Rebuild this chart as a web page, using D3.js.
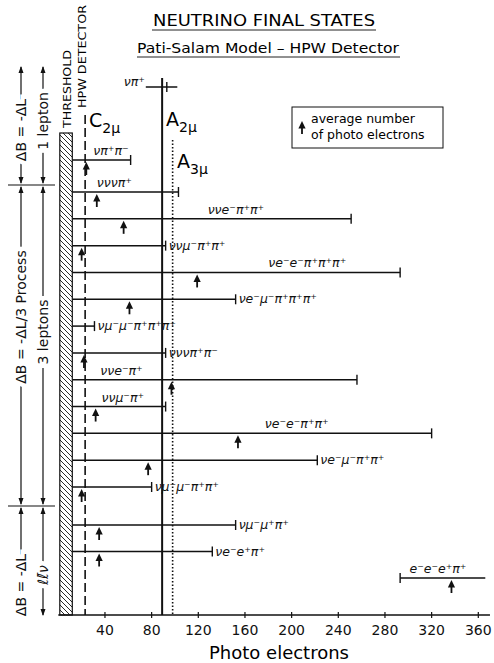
<!DOCTYPE html>
<html><head><meta charset="utf-8">
<script src="https://cdn.jsdelivr.net/npm/d3@7"></script>
<style>body{margin:0;background:#fff}</style>
</head><body>
<script>
// ---------- DATA ----------
const finalStates = ["νπ⁺","νπ⁺π⁻","νννπ⁺","ννe⁻π⁺π⁺","ννμ⁻π⁺π⁺","νe⁻e⁻π⁺π⁺π⁺","νe⁻μ⁻π⁺π⁺π⁺","νμ⁻μ⁻π⁺π⁺π⁺","νννπ⁺π⁻","ννe⁻π⁺","ννμ⁻π⁺","νe⁻e⁻π⁺π⁺","νe⁻μ⁻π⁺π⁺","νμ⁻μ⁻π⁺π⁺","νμ⁻μ⁺π⁺","νe⁻e⁺π⁺","e⁻e⁻e⁺π⁺"];
const processGroup = [0,0,1,1,1,1,1,1,1,1,1,1,1,1,2,2,2];
const rangeStart = [75,12,12,12,12,12,12,12,12,12,12,12,12,12,12,12,293];
const rangeEnd   = [102,62,103,251,92,293,152,31,92,256,92,320,222,80,152,132,366];
const rangeTick  = [93,62,103,251,92,293,152,31,92,256,92,320,222,80,152,132,293];
const avgPhotoElectrons = [null,24,33,56,20,119,61,null,22,97,32,154,77,20,35,35,337];
const refNames = ["C","A","A"];
const refSubs = ["2μ","2μ","3μ"];
const refValues = [23,89,98];
const thresholdValue = 12;
const xTicks = [40,80,120,160,200,240,280,320,360];
const groupLabels = ["ΔB = -ΔL","ΔB = -ΔL/3  Process","ΔB = -ΔL"];
const groupSubLabels = ["1 lepton","3 leptons","ℓℓ̄ν"];

// ---------- LAYOUT ----------
const W = 494, H = 663;
const axisY = 615;
const x = d3.scaleLinear().domain([0,360]).range([58.3,478.3]);
const groupRanges = [[87,160],[192,487],[525,578]];
const groupBounds = [[65,185],[185,506],[506,617]];
const groupTextCenter = [[130,121],[317,332],[585,575]];
const yScales = groupRanges.map((r,g) =>
  d3.scalePoint().domain(finalStates.filter((d,i)=>processGroup[i]===g)).range(r));
const yOf = i => yScales[processGroup[i]](finalStates[i]);
const labelPlace = {
 "νπ⁺":{side:"left"}, "νπ⁺π⁻":{side:"above",at:30}, "νννπ⁺":{side:"above",at:33},
 "ννe⁻π⁺π⁺":{side:"above",at:128}, "νe⁻e⁻π⁺π⁺π⁺":{side:"above",at:180},
 "ννe⁻π⁺":{side:"above",at:36}, "ννμ⁻π⁺":{side:"above",at:37},
 "νe⁻e⁻π⁺π⁺":{side:"above",at:177}, "e⁻e⁻e⁺π⁺":{side:"above",at:301}
};
const refTop = [115,78,140];
const refLabelPos = [[89,127],[166,126],[177,168]];
const refDash = ["9,4",null,"1.5,2"];

const svg = d3.select("body").append("svg").attr("width",W).attr("height",H)
  .style("font-family","'DejaVu Sans', sans-serif");
svg.append("rect").attr("width",W).attr("height",H).attr("fill","#fff");

const defs = svg.append("defs");
const pat = defs.append("pattern").attr("id","hatch").attr("patternUnits","userSpaceOnUse")
  .attr("width",5).attr("height",5);
pat.append("path").attr("d","M-1,-1 L6,6 M-1,4 L1,6 M4,-1 L6,1").attr("stroke","#111").attr("stroke-width",0.9);

// Title
svg.append("text").attr("x",264).attr("y",26).attr("text-anchor","middle")
  .attr("font-size",15).attr("textLength",222).attr("lengthAdjust","spacingAndGlyphs")
  .text("NEUTRINO FINAL STATES");
svg.append("line").attr("x1",152).attr("x2",376).attr("y1",30).attr("y2",30).attr("stroke","#222").attr("stroke-width",1);
svg.append("text").attr("x",268).attr("y",53).attr("text-anchor","middle")
  .attr("font-size",14.5).attr("textLength",262).attr("lengthAdjust","spacingAndGlyphs")
  .text("Pati-Salam Model – HPW Detector");
svg.append("line").attr("x1",137).attr("x2",400).attr("y1",57).attr("y2",57).attr("stroke","#222").attr("stroke-width",1);

// Threshold hatch
svg.append("rect").attr("x",x(0)+1.5).attr("y",133).attr("width",x(thresholdValue)-x(0)-1.5)
  .attr("height",axisY-133).attr("fill","url(#hatch)").attr("stroke","#111").attr("stroke-width",1.2);
svg.append("text").attr("transform",`translate(${71},${128}) rotate(-90)`)
  .attr("font-size",11).attr("textLength",78).attr("lengthAdjust","spacingAndGlyphs").text("THRESHOLD");
svg.append("text").attr("transform",`translate(${86},${108}) rotate(-90)`)
  .attr("font-size",11).attr("textLength",103).attr("lengthAdjust","spacingAndGlyphs").text("HPW DETECTOR");

// Reference lines
refValues.forEach((v,i)=>{
  svg.append("line").attr("x1",x(v)).attr("x2",x(v)).attr("y1",refTop[i]).attr("y2",axisY)
    .attr("stroke","#111").attr("stroke-width",i===1?2:1.6).attr("stroke-dasharray",refDash[i]);
  const t = svg.append("text").attr("x",refLabelPos[i][0]).attr("y",refLabelPos[i][1]).attr("font-size",19);
  t.append("tspan").text(refNames[i]);
  t.append("tspan").attr("font-size",14).attr("dy",6).text(refSubs[i]);
});

// Axis
const axis = svg.append("g").attr("transform",`translate(0,${axisY})`);
axis.append("line").attr("x1",x(0)).attr("x2",x(370)).attr("stroke","#111").attr("stroke-width",1.6);
axis.selectAll(".tk").data(xTicks).join("line").attr("x1",d=>x(d)).attr("x2",d=>x(d))
  .attr("y1",-3).attr("y2",3).attr("stroke","#111").attr("stroke-width",1.2);
axis.selectAll(".tl").data(xTicks).join("text").attr("x",d=>x(d)).attr("y",20)
  .attr("text-anchor","middle").attr("font-size",14).attr("fill","#111").text(d=>d);
svg.append("text").attr("x",279).attr("y",659).attr("text-anchor","middle").attr("font-size",18).text("Photo electrons");

// Arrow helper
function arrow(g, cx, tipY){
  g.append("path").attr("d",`M${cx},${tipY} L${cx-3.6},${tipY+7.5} L${cx+3.6},${tipY+7.5} Z`).attr("fill","#111");
  g.append("line").attr("x1",cx).attr("x2",cx).attr("y1",tipY+6).attr("y2",tipY+13).attr("stroke","#111").attr("stroke-width",1.8);
}

// Bars
const bars = svg.append("g");
finalStates.forEach((name,i)=>{
  const y = yOf(i);
  bars.append("line").attr("x1",x(rangeStart[i])).attr("x2",x(rangeEnd[i])).attr("y1",y).attr("y2",y)
    .attr("stroke","#111").attr("stroke-width",1.5);
  bars.append("line").attr("x1",x(rangeTick[i])).attr("x2",x(rangeTick[i])).attr("y1",y-5).attr("y2",y+5)
    .attr("stroke","#111").attr("stroke-width",1.4);
  if (avgPhotoElectrons[i]!=null) arrow(bars, x(avgPhotoElectrons[i]), y+2);
  const p = labelPlace[name] || {side:"right"};
  const t = bars.append("text").attr("font-size",12.5).attr("font-style","italic").attr("fill","#111").text(name);
  if (p.side==="above") t.attr("x",x(p.at)).attr("y",y-5);
  else if (p.side==="left") t.attr("x",x(rangeStart[i])-1).attr("y",y-1).attr("text-anchor","end");
  else t.attr("x",x(rangeTick[i])+3).attr("y",y+4);
});

// Legend
const lg = svg.append("g");
lg.append("rect").attr("x",292).attr("y",107).attr("width",151).attr("height",41)
  .attr("fill","none").attr("stroke","#111").attr("stroke-width",1);
arrow(lg, 302, 121);
lg.append("text").attr("x",311).attr("y",123).attr("font-size",12.5).text("average number");
lg.append("text").attr("x",311).attr("y",139).attr("font-size",12.5).text("of photo electrons");

// Left process brackets
const colX = [21,43];
groupBounds.forEach((b,g)=>{
  svg.append("line").attr("x1",8).attr("x2",55).attr("y1",b[0]).attr("y2",b[0]).attr("stroke","#111").attr("stroke-width",1.2)
    .attr("opacity", g===0?0:1);
  colX.forEach((cx,k)=>{
    svg.append("line").attr("x1",cx).attr("x2",cx).attr("y1",b[0]+2).attr("y2",b[1]-2).attr("stroke","#111").attr("stroke-width",1.2);
    svg.append("path").attr("d",`M${cx},${b[0]+1} l-2.5,7 l5,0 Z`).attr("fill","#111");
    svg.append("path").attr("d",`M${cx},${b[1]-1} l-2.5,-7 l5,0 Z`).attr("fill","#111");
    const txt = k===0 ? groupLabels[g] : groupSubLabels[g];
    svg.append("text").attr("transform",`translate(${cx},${groupTextCenter[g][k]}) rotate(-90)`)
      .attr("text-anchor","middle").attr("dominant-baseline","central").attr("font-size",14)
      .attr("font-style", (k===1&&g===2)?"italic":"normal")
      .attr("stroke","#fff").attr("stroke-width",9).attr("paint-order","stroke").attr("fill","#111")
      .text(txt);
  });
});
</script>
</body></html>
